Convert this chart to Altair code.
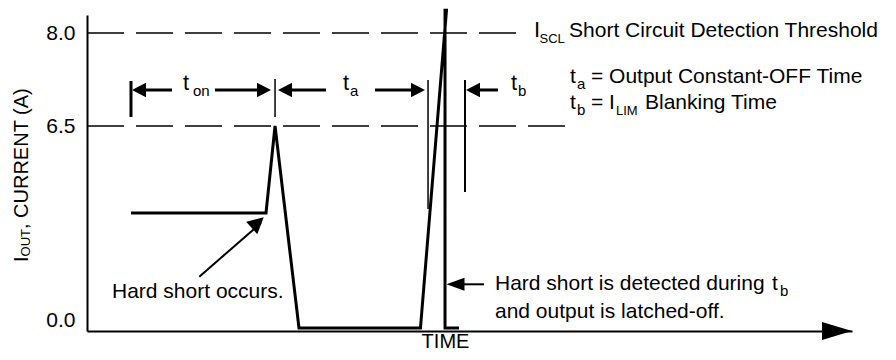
import altair as alt
import pandas as pd

FONT = "Liberation Sans"

# ---- values (time: arbitrary units 0-100, current: A) ----
wave_t = [5.75, 23.40, 24.58, 27.71, 43.59, 46.99, 46.80, 46.80, 48.63]
wave_i = [3.70, 3.70, 6.50, 0.00, 0.00, 8.38, 8.38, 0.00, 0.00]

y_ticks = [0.0, 6.5, 8.0]

thr_i = [8.0, 6.5]
thr_t_end = [56.86, 62.88]

# interval marker bars
thick_mark_t = [5.75]
thick_mark_lo = [6.645]
thick_mark_hi = [7.226]
thin_mark_t = [24.58, 44.58]
thin_mark_lo = [6.645, 3.83]
thin_mark_hi = [7.258, 7.242]
mid_mark_t = [49.41]
mid_mark_lo = [4.376]
mid_mark_hi = [7.242]

# dimension arrows (t_on, t_a, t_b)
dim_i = 7.081
dim_t0 = [6.9, 16.73, 26.0, 37.65, 50.6]
dim_t1 = [11.11, 23.0, 31.24, 43.2, 53.73]
dim_tip_t = [5.88, 24.05, 24.97, 44.18, 49.54]
dim_tip_angle = [180, 0, 180, 0, 180]

# pointer "Hard short occurs."
p1_t = [14.68, 22.75]
p1_i = [1.65, 3.38]
p1_tip = (23.10, 3.56, 318.6)
# pointer "Hard short is detected ..."
p2_t = [48.2, 51.9]
p2_i = [1.406, 1.406]
p2_tip = (46.99, 1.406, 180)
# time axis arrow tip
axis_tip = (100.0, -0.1, 0)

# horizontal text pieces: text, t, i, font size
txt_text = ["t", "on", "t", "a", "t", "b",
            "I", "SCL", "Short Circuit Detection Threshold",
            "t", "a", "= Output Constant-OFF Time",
            "t", "b", "= I", "LIM", "Blanking Time",
            "Hard short occurs.",
            "Hard short is detected during", "t", "b",
            "and output is latched-off."]
txt_t = [12.55, 13.86, 33.46, 34.38, 55.42, 56.34,
         58.43, 59.15, 63.01,
         63.14, 64.05, 65.88,
         63.14, 64.05, 65.88, 69.15, 72.94,
         3.27,
         53.33, 89.54, 90.58,
         53.33]
txt_i = [7.081, 6.984, 7.081, 6.984, 7.081, 6.984,
         7.935, 7.839, 7.935,
         7.194, 7.097, 7.194,
         6.774, 6.677, 6.774, 6.677, 6.774,
         0.965,
         1.223, 1.223, 1.030,
         0.322]
txt_size = [22, 15, 22, 15, 22, 15,
            22, 13, 21,
            21, 15, 21,
            21, 15, 21, 13, 21,
            21,
            21, 21, 15,
            21]

# rotated y-title pieces
yt_text = ["I", "OUT", ", CURRENT (A)"]
yt_t = [-7.71, -7.45, -7.71]
yt_i = [2.124, 2.304, 3.185]
yt_size = [20, 13, 20]

# ---------------------------------------------------------------------------
xs = alt.Scale(domain=[0, 100], nice=False, zero=False)
ys = alt.Scale(domain=[-0.1, 0, 6.5, 8.0, 8.3], range=[316, 313, 111, 18, 0],
               nice=False, zero=False)

x_axis = alt.Axis(labels=False, ticks=False, grid=False, domainColor="black",
                  domainWidth=2, title="TIME", titleFont=FONT, titleFontSize=20,
                  titleFontWeight="normal", titleColor="black", titleX=358,
                  titleY=20, titleAlign="center", titleBaseline="bottom")
y_axis = alt.Axis(values=y_ticks, format=".1f", ticks=False, grid=False,
                  domainColor="black", domainWidth=2, labelFont=FONT,
                  labelFontSize=21, labelColor="black", labelPadding=12,
                  labelOffset={"condition": {"test": "datum.value === 0", "value": -8}, "value": 0},
                  title=None)


def X(f="t"):
    return alt.X(f"{f}:Q", scale=xs, axis=x_axis)


def Y(f="i"):
    return alt.Y(f"{f}:Q", scale=ys, axis=y_axis)


wave_df = pd.DataFrame({"t": wave_t, "i": wave_i, "k": list(range(len(wave_t)))})
wave = alt.Chart(wave_df).mark_line(color="black", strokeWidth=3, strokeJoin="miter").encode(
    x=X("t"), y=Y("i"), order="k:Q")

thr_df = pd.DataFrame({"t0": [0.0, 0.0], "t1": thr_t_end, "i": thr_i})
thr = alt.Chart(thr_df).mark_rule(color="black", strokeWidth=1.5, strokeDash=[37, 12]).encode(
    x=X("t0"), x2="t1:Q", y=Y("i"))


def marks(ts, lo, hi, w):
    df = pd.DataFrame({"t": ts, "lo": lo, "hi": hi})
    return alt.Chart(df).mark_rule(color="black", strokeWidth=w).encode(
        x=X("t"), y=Y("lo"), y2="hi:Q")


m1 = marks(thick_mark_t, thick_mark_lo, thick_mark_hi, 3)
m2 = marks(thin_mark_t, thin_mark_lo, thin_mark_hi, 1.5)
m3 = marks(mid_mark_t, mid_mark_lo, mid_mark_hi, 2)

dim_df = pd.DataFrame({"t0": dim_t0, "t1": dim_t1, "i": [dim_i] * len(dim_t0)})
dims = alt.Chart(dim_df).mark_rule(color="black", strokeWidth=3).encode(
    x=X("t0"), x2="t1:Q", y=Y("i"))

p_df = pd.DataFrame({"t0": [p1_t[0], p2_t[0]], "t1": [p1_t[1], p2_t[1]],
                     "i0": [p1_i[0], p2_i[0]], "i1": [p1_i[1], p2_i[1]]})
pointers = alt.Chart(p_df).mark_rule(color="black", strokeWidth=2).encode(
    x=X("t0"), x2="t1:Q", y=Y("i0"), y2="i1:Q")

HEAD = "M0,0L-2,-1.05L-2,1.05Z"
heads_df = pd.DataFrame({
    "t": dim_tip_t + [p1_tip[0]],
    "i": [dim_i] * len(dim_tip_t) + [p1_tip[1]],
    "a": dim_tip_angle + [p1_tip[2]],
    "s": [196] * len(dim_tip_t) + [256],
})
heads = alt.Chart(heads_df).mark_point(shape=HEAD, filled=True, color="black", opacity=1,
                                       strokeWidth=0).encode(
    x=X("t"), y=Y("i"), angle=alt.Angle("a:Q", scale=None), size=alt.Size("s:Q", scale=None))

head2 = alt.Chart(pd.DataFrame({"t": [p2_tip[0]], "i": [p2_tip[1]], "a": [p2_tip[2]]})).mark_point(
    shape="M0,0L-2,-0.72L-2,0.72Z", filled=True, color="black", opacity=1, size=324,
    strokeWidth=0).encode(x=X("t"), y=Y("i"), angle=alt.Angle("a:Q", scale=None))

head3 = alt.Chart(pd.DataFrame({"t": [axis_tip[0]], "i": [axis_tip[1]], "a": [axis_tip[2]]})).mark_point(
    shape="M0,0L-2,-0.6L-2,0.6Z", filled=True, color="black", opacity=1, size=900,
    strokeWidth=0).encode(x=X("t"), y=Y("i"), angle=alt.Angle("a:Q", scale=None))

txt_df = pd.DataFrame({"text": txt_text, "t": txt_t, "i": txt_i, "s": txt_size})
texts = alt.Chart(txt_df).mark_text(font=FONT, color="black", align="left",
                                    baseline="alphabetic").encode(
    x=X("t"), y=Y("i"), text="text:N", size=alt.Size("s:Q", scale=None))

yt_df = pd.DataFrame({"text": yt_text, "t": yt_t, "i": yt_i, "s": yt_size})
ytitle = alt.Chart(yt_df).mark_text(font=FONT, color="black", align="left",
                                    baseline="alphabetic", angle=270).encode(
    x=X("t"), y=Y("i"), text="text:N", size=alt.Size("s:Q", scale=None))

chart = alt.layer(wave, thr, m1, m2, m3, dims, pointers, heads, head2, head3, texts, ytitle).properties(
    width=765, height=316,
    autosize=alt.AutoSizeParams(type="none"),
    padding={"left": 79, "top": 7, "right": 36, "bottom": 21},
).configure(background="white").configure_view(stroke=None)

chart.save("out.html", embed_options={"renderer": "svg", "actions": False})
